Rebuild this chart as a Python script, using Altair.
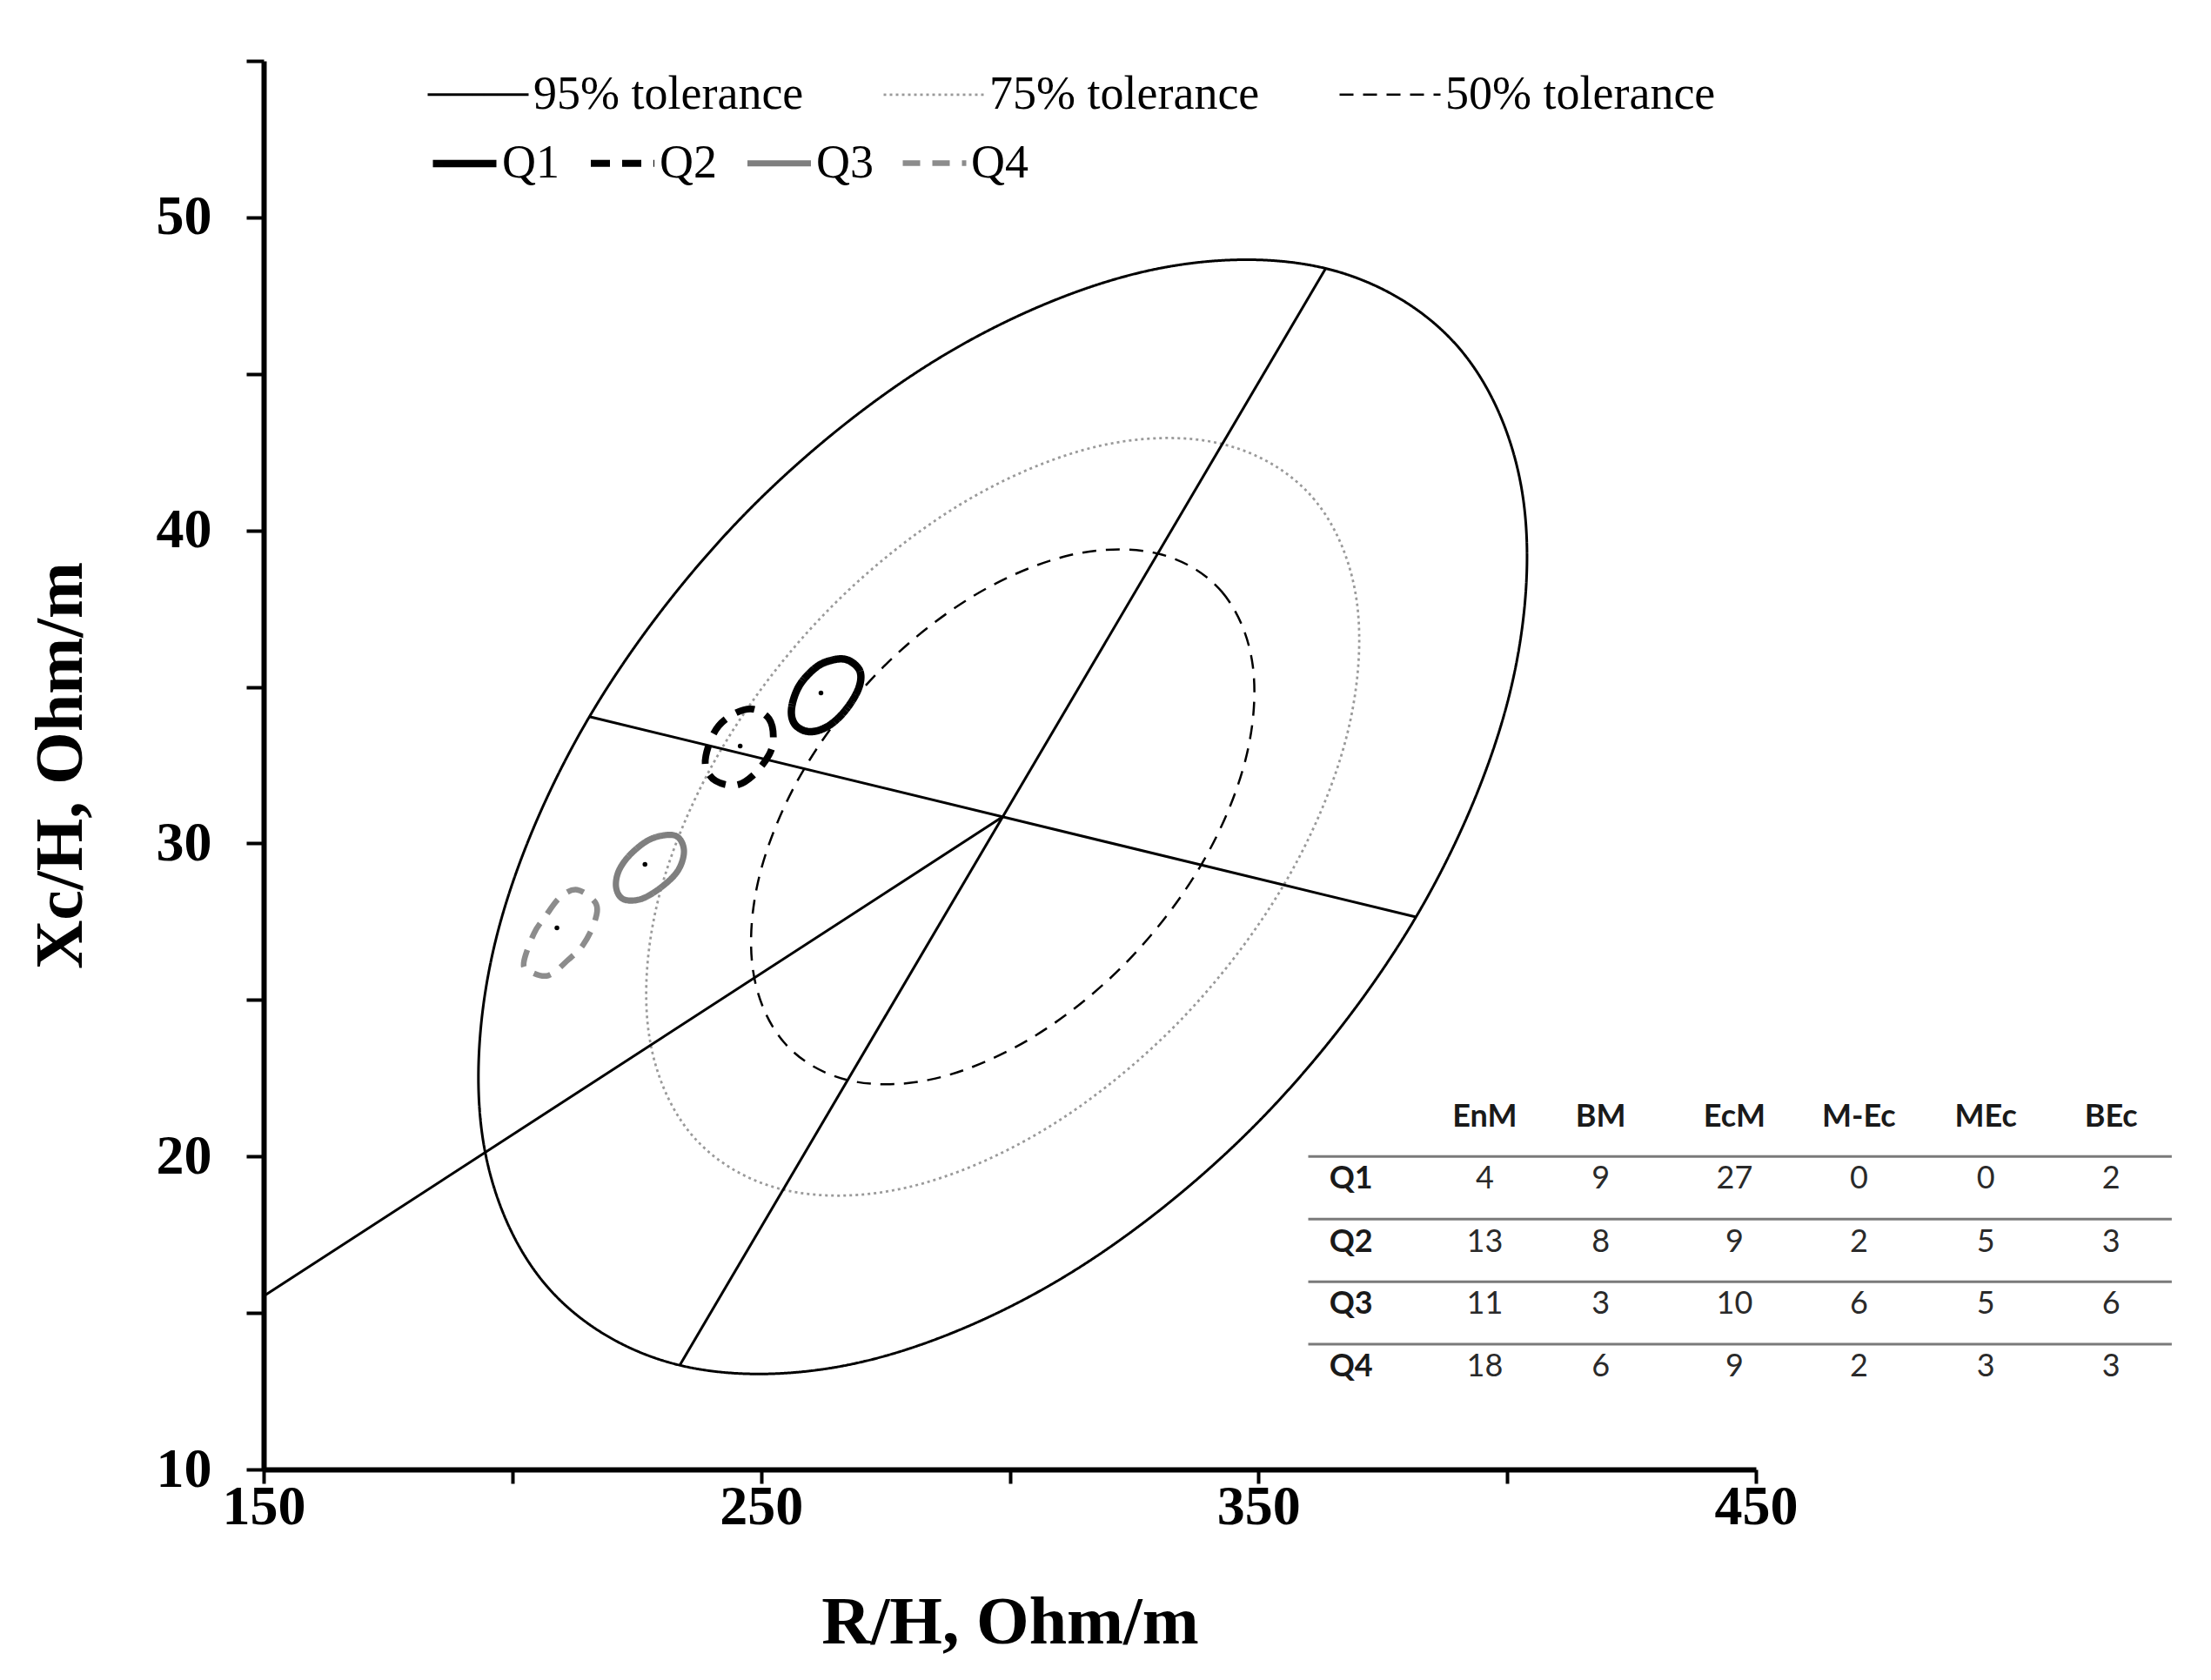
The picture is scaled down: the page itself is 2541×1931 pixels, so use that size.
import altair as alt
import pandas as pd

# ---------------- values ----------------
# tolerance ellipses (R/H, Xc/H) outline points
tol_names = ["95% tolerance", "75% tolerance", "50% tolerance"]
tol95_x = [363.51, 390.36, 403.24, 400.19, 381.66, 350.49, 311.42, 270.38,
           233.65, 206.80, 193.92, 196.97, 215.50, 246.67, 285.74, 326.78]
tol95_y = [48.37, 45.82, 40.98, 34.59, 27.65, 21.19, 16.20, 13.44,
           13.33, 15.88, 20.72, 27.11, 34.05, 40.51, 45.50, 48.26]
tol75_x = [342.73, 360.99, 369.75, 367.67, 355.07, 333.88, 307.31, 279.40,
           254.43, 236.17, 227.41, 229.49, 242.09, 263.28, 289.85, 317.76]
tol75_y = [42.76, 41.03, 37.74, 33.39, 28.67, 24.28, 20.89, 19.01,
           18.94, 20.67, 23.96, 28.31, 33.03, 37.42, 40.81, 42.69]
tol50_x = [329.75, 342.63, 348.82, 347.35, 338.46, 323.50, 304.74, 285.04,
           267.41, 254.53, 248.34, 249.81, 258.70, 273.66, 292.42, 312.12]
tol50_y = [39.26, 38.04, 35.71, 32.65, 29.31, 26.21, 23.82, 22.49,
           22.44, 23.66, 25.99, 29.05, 32.39, 35.49, 37.88, 39.21]

# quartile confidence ellipses
q_names = ["Q1", "Q2", "Q3", "Q4"]
q1_x = [267.56, 269.88, 269.60, 266.99, 263.51, 259.73, 256.82, 256.13, 257.69, 261.17, 264.66]
q1_y = [35.85, 35.50, 34.95, 34.26, 33.75, 33.57, 33.80, 34.31, 35.04, 35.64, 35.87]
q2_x = [248.42, 251.60, 252.47, 251.60, 248.42, 244.94, 240.88, 238.84, 239.42, 241.45, 244.94]
q2_y = [34.29, 33.98, 33.39, 32.83, 32.18, 31.86, 32.00, 32.46, 33.11, 33.75, 34.17]
q3_x = [232.75, 234.49, 233.32, 229.84, 225.80, 222.31, 220.86, 221.44, 224.05, 228.10]
q3_y = [30.25, 29.79, 29.14, 28.59, 28.22, 28.22, 28.59, 29.14, 29.70, 30.16]
q4_x = [213.03, 216.79, 216.51, 214.18, 211.29, 207.21, 203.45, 202.29, 204.33, 206.64, 209.55]
q4_y = [28.52, 28.08, 27.48, 26.75, 26.29, 25.78, 25.92, 26.19, 27.12, 27.67, 28.27]
q_center_x = [262.04, 245.80, 226.66, 208.96]
q_center_y = [34.81, 33.11, 29.33, 27.30]

# axes of the 95% ellipse and the line from the y axis to the centre
seg_names = ["major", "minor", "radial"]
seg_x = [[363.51, 233.65], [381.66, 215.50], [150.0, 298.58]]
seg_y = [[48.37, 13.33], [27.65, 34.05], [15.54, 30.85]]

# table
table_cols = ["EnM", "BM", "EcM", "M-Ec", "MEc", "BEc"]
table_rows = ["Q1", "Q2", "Q3", "Q4"]
table_values = [[4, 9, 27, 0, 0, 2],
                [13, 8, 9, 2, 5, 3],
                [11, 3, 10, 6, 5, 6],
                [18, 6, 9, 2, 3, 3]]
# table placement (in axis units)
table_col_x = [395.5, 418.8, 445.7, 470.7, 496.2, 521.4]
table_label_x = 368.6
table_header_y = 21.26
table_row_y = [19.28, 17.25, 15.27, 13.29]
table_rule_y = [20, 18, 16, 14]
table_rule_x0, table_rule_x1 = 360.0, 533.6

# ---------------- build tables ----------------
tol_rows = []
for name, xs, ys in zip(tol_names, [tol95_x, tol75_x, tol50_x], [tol95_y, tol75_y, tol50_y]):
    for i, (a, b) in enumerate(zip(xs, ys)):
        tol_rows.append({"contour": name, "i": i, "R": a, "Xc": b})
tol_df = pd.DataFrame(tol_rows)

q_rows = []
for name, xs, ys in zip(q_names, [q1_x, q2_x, q3_x, q4_x], [q1_y, q2_y, q3_y, q4_y]):
    for i, (a, b) in enumerate(zip(xs, ys)):
        q_rows.append({"q": name, "i": i, "R": a, "Xc": b})
q_df = pd.DataFrame(q_rows)

center_df = pd.DataFrame({"q": q_names, "R": q_center_x, "Xc": q_center_y})

seg_rows = []
for name, xs, ys in zip(seg_names, seg_x, seg_y):
    for i, (a, b) in enumerate(zip(xs, ys)):
        seg_rows.append({"seg": name, "i": i, "R": a, "Xc": b})
seg_df = pd.DataFrame(seg_rows)

header_df = pd.DataFrame({"txt": table_cols, "R": table_col_x, "Xc": [table_header_y] * len(table_cols)})
label_df = pd.DataFrame({"txt": table_rows, "R": [table_label_x] * len(table_rows), "Xc": table_row_y})
cell_rows = []
for r, rname in enumerate(table_rows):
    for c, cname in enumerate(table_cols):
        cell_rows.append({"txt": str(table_values[r][c]), "R": table_col_x[c], "Xc": table_row_y[r]})
cell_df = pd.DataFrame(cell_rows)
rule_df = pd.DataFrame({"R": [table_rule_x0] * 4, "R2": [table_rule_x1] * 4, "Xc": table_rule_y})

# ---------------- scales & axes ----------------
SERIF = "Liberation Serif"
x_scale = alt.Scale(domain=[150, 450], nice=False, zero=False)
y_scale = alt.Scale(domain=[10, 55], nice=False, zero=False)
x_axis = alt.Axis(
    title="R/H, Ohm/m", values=list(range(150, 451, 50)),
    labelExpr="datum.value % 100 == 50 ? datum.label : ''",
    grid=False, domainColor="black", domainWidth=6, tickColor="black", tickWidth=4, tickSize=16,
    labelFont=SERIF, labelFontWeight="bold", labelFontSize=64, labelColor="black",
    labelPadding=-5, labelFlush=False, labelOverlap=False,
    titleFont=SERIF, titleFontWeight="bold", titleFontSize=78, titleColor="black", titlePadding=62,
)
y_axis = alt.Axis(
    title="Xc/H, Ohm/m", values=list(range(10, 56, 5)),
    labelExpr="datum.value % 10 == 0 ? datum.label : ''",
    grid=False, domainColor="black", domainWidth=6, tickColor="black", tickWidth=4, tickSize=20,
    labelFont=SERIF, labelFontWeight="bold", labelFontSize=64, labelColor="black",
    labelPadding=40, labelFlush=False, labelOverlap=False,
    titleFont=SERIF, titleFontWeight="bold", titleFontSize=78, titleColor="black", titlePadding=70,
)


def X(field="R"):
    return alt.X(f"{field}:Q", scale=x_scale, axis=x_axis)


def Y(field="Xc"):
    return alt.Y(f"{field}:Q", scale=y_scale, axis=y_axis)


# ---------------- layers ----------------
tol_legend = alt.Legend(
    title=None, orient="none", legendX=187, legendY=-21, direction="horizontal",
    symbolType="stroke", symbolSize=116 * 116, labelFont=SERIF, labelFontSize=54,
    labelColor="black", labelOffset=4, columnPadding=86, padding=0, labelLimit=0,
)
tol_layer = alt.Chart(tol_df).mark_line(interpolate="cardinal-closed").encode(
    x=X(), y=Y(), order="i:Q",
    color=alt.Color("contour:N", scale=alt.Scale(domain=tol_names, range=["#000000", "#9a9a9a", "#000000"]), legend=tol_legend),
    strokeDash=alt.StrokeDash("contour:N", scale=alt.Scale(domain=tol_names, range=[[1, 0], [3, 4], [16, 11]]), legend=tol_legend),
    strokeWidth=alt.StrokeWidth("contour:N", scale=alt.Scale(domain=tol_names, range=[3, 2.5, 3.5]), legend=tol_legend),
)

q_legend = alt.Legend(
    title=None, orient="none", legendX=190, legendY=77, direction="horizontal",
    symbolType="stroke", symbolSize=73 * 73, labelFont=SERIF, labelFontSize=54,
    labelColor="black", labelOffset=2, columnPadding=20, padding=0, labelLimit=0,
)
q_layer = alt.Chart(q_df).mark_line(interpolate="cardinal-closed").encode(
    x=X(), y=Y(), order="i:Q",
    color=alt.Color("q:N", scale=alt.Scale(domain=q_names, range=["#000000", "#000000", "#7f7f7f", "#8c8c8c"]), legend=q_legend),
    strokeDash=alt.StrokeDash("q:N", scale=alt.Scale(domain=q_names, range=[[1, 0], [22, 14], [1, 0], [20, 14]]), legend=q_legend),
    strokeWidth=alt.StrokeWidth("q:N", scale=alt.Scale(domain=q_names, range=[8.5, 6.5, 8.5, 5.5]), legend=q_legend),
)

seg_layer = alt.Chart(seg_df).mark_line(color="black", strokeWidth=3).encode(
    x=X(), y=Y(), order="i:Q", detail="seg:N",
)

center_layer = alt.Chart(center_df).mark_point(filled=True, color="black", size=30, opacity=1).encode(
    x=X(), y=Y(),
)

rule_layer = alt.Chart(rule_df).mark_rule(color="#7a7a7a", strokeWidth=3).encode(
    x=X(), x2="R2:Q", y=Y(),
)
header_layer = alt.Chart(header_df).mark_text(font="Lato", fontSize=36, fontWeight="bold", color="#1a1a1a", align="center", baseline="middle").encode(
    x=X(), y=Y(), text="txt:N",
)
label_layer = alt.Chart(label_df).mark_text(font="Lato", fontSize=36, fontWeight="bold", color="#1a1a1a", align="center", baseline="middle").encode(
    x=X(), y=Y(), text="txt:N",
)
cell_layer = alt.Chart(cell_df).mark_text(font="Lato", fontSize=36, color="#2a2a2a", align="center", baseline="middle").encode(
    x=X(), y=Y(), text="txt:N",
)

chart = alt.layer(
    tol_layer, seg_layer, q_layer, center_layer, rule_layer, header_layer, label_layer, cell_layer
).resolve_scale(
    color="independent", strokeDash="independent", strokeWidth="independent"
).properties(
    width=1715, height=1619,
    autosize=alt.AutoSizeParams(type="none"),
    padding={"left": 295, "top": 62, "right": 515, "bottom": 234},
    background="white",
).configure_view(stroke=None)

chart.save("out.html", embed_options={"renderer": "svg", "actions": False})
